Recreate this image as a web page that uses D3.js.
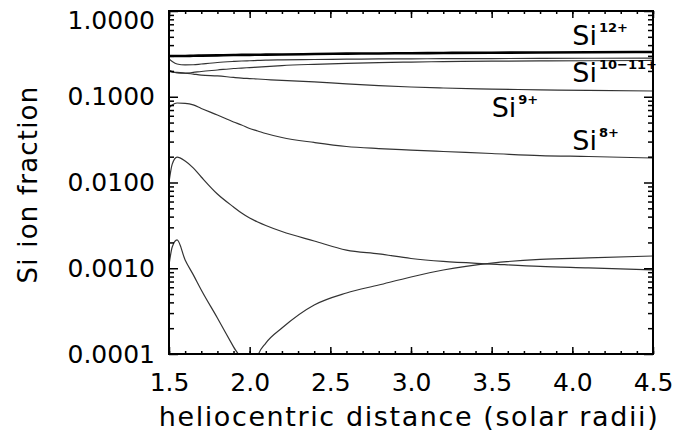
<!DOCTYPE html>
<html>
<head>
<meta charset="utf-8">
<script src="https://cdn.jsdelivr.net/npm/d3@7"></script>
<style>
body { margin:0; background:#fff; }
text { font-family: "DejaVu Sans", sans-serif; fill:#000; }
</style>
</head>
<body>
<svg id="graph1"></svg>
<script>

// heliocentric distance (solar radii)
var distance = [1.5,1.52,1.55,1.6,1.65,1.7,1.8,1.9,1.95,2.0,2.05,2.1,2.2,2.4,2.6,2.8,3.0,3.2,3.5,3.8,4.1,4.5]

// ion fractions
var si12 = [0.299,0.299,0.299,0.299,0.301,0.302,0.304,0.307,0.308,0.308,0.309,0.310,0.311,0.315,0.318,0.320,0.322,0.324,0.326,0.328,0.330,0.333]
var si11 = [0.276,0.258,0.241,0.235,0.236,0.241,0.251,0.258,0.261,0.263,0.265,0.267,0.269,0.272,0.274,0.276,0.277,0.278,0.279,0.280,0.281,0.282]
var si10 = [0.205,0.197,0.190,0.188,0.192,0.197,0.205,0.2135,0.216,0.219,0.222,0.225,0.231,0.239,0.2455,0.250,0.254,0.257,0.260,0.262,0.263,0.265]
var si9  = [0.200,0.194,0.192,0.189,0.184,0.179,0.175,0.168,0.165,0.163,0.161,0.159,0.155,0.149,0.141,0.135,0.130,0.1265,0.123,0.1205,0.1186,0.1167]
var si8  = [0.0739,0.0801,0.0845,0.0838,0.0805,0.0730,0.0613,0.0508,0.0468,0.0426,0.0399,0.0373,0.0335,0.0293,0.0263,0.0249,0.0239,0.0230,0.0218,0.0206,0.0201,0.0193]
var si7  = [0.0101,0.0164,0.0198,0.0178,0.0148,0.0116,0.00734,0.00518,0.00441,0.00385,0.00346,0.00315,0.00268,0.00208,0.00163,0.00147,0.00130,0.00120,0.00112,0.00105,0.00101,0.000954]
var si6  = [0.00109,0.00177,0.00214,0.00125,0.000843,0.000558,0.000263,0.000121,0.0000829,0.000038,0.0000948,0.000134,0.000201,0.000373,0.000515,0.000638,0.000791,0.000954,0.00115,0.00127,0.00132,0.00139]

var xTicks = [1.5,2.0,2.5,3.0,3.5,4.0,4.5]
var yTicks = [0.0001,0.001,0.01,0.1,1]

var seriesList = [
    {name:"si12", values:si12, width:2.6, color:"#000"},
    {name:"si11", values:si11, width:1.2, color:"#333"},
    {name:"si10", values:si10, width:1.2, color:"#333"},
    {name:"si9",  values:si9,  width:1.2, color:"#333"},
    {name:"si8",  values:si8,  width:1.2, color:"#333"},
    {name:"si7",  values:si7,  width:1.2, color:"#333"},
    {name:"si6",  values:si6,  width:1.2, color:"#333"}
]

// ion labels, placed in data units
var labelList = [
    {sup:"12+", x:4.0, y:0.40},
    {sup:"10\u221211+", x:4.0, y:0.148},
    {sup:"9+", x:3.5, y:0.058},
    {sup:"8+", x:4.0, y:0.0239}
]


var initGraph = function()
{
    var screen = {width:675, height:438}
    var margins = {left:169, right:22, top:11, bottom:84}
    var graph =
        {
            width:screen.width-margins.left-margins.right,
            height:screen.height-margins.top-margins.bottom
        }

    var svg = d3.select("#graph1")
        .attr("width", screen.width)
        .attr("height", screen.height)

    var target = svg.append("g")
        .attr("transform", "translate("+margins.left+","+margins.top+")")

    var xScale = d3.scaleLinear()
        .domain([1.5,4.5])
        .range([0, graph.width])

    var yScale = d3.scaleLog()
        .domain([0.0001,1])
        .range([graph.height, 0])

    svg.append("defs").append("clipPath")
        .attr("id","plotclip")
        .append("rect")
        .attr("width", graph.width)
        .attr("height", graph.height)

    drawLines(target, xScale, yScale)
    drawAxis(target, graph, xScale, yScale)
    drawLabels(svg, target, graph, margins, xScale, yScale)
}


var drawLines = function(target, xScale, yScale)
{
    var line = d3.line()
        .x(function(d, i) { return xScale(distance[i]) })
        .y(function(d) { return yScale(d) })
        .curve(d3.curveMonotoneX)

    target.append("g")
        .attr("clip-path","url(#plotclip)")
        .selectAll("path")
        .data(seriesList)
        .enter()
        .append("path")
        .attr("d", function(s) { return line(s.values) })
        .attr("fill","none")
        .attr("stroke", function(s) { return s.color })
        .attr("stroke-width", function(s) { return s.width })
}


var drawAxis = function(target, graph, xScale, yScale)
{
    var minorX = d3.range(15, 46).map(function(v) { return v/10 })
    var minorY = []
    yTicks.slice(0, 4).forEach(function(t)
    {
        for (var k = 2; k < 10; k++) minorY.push(t*k)
    })

    var noDomain = function(g) { g.select(".domain").remove(); g.selectAll("line").attr("stroke-width",1.5) }

    // bottom
    target.append("g")
        .attr("transform","translate(0,"+graph.height+")")
        .call(d3.axisBottom(xScale).tickValues(minorX).tickSize(-3).tickFormat(""))
        .call(noDomain)
    target.append("g")
        .attr("transform","translate(0,"+graph.height+")")
        .call(d3.axisBottom(xScale).tickValues(xTicks).tickSize(-7).tickPadding(19).tickFormat(d3.format(".1f")))
        .call(noDomain)
        .selectAll("text").attr("font-size",25).attr("font-family",null)

    // top
    target.append("g")
        .call(d3.axisTop(xScale).tickValues(minorX).tickSize(-3).tickFormat(""))
        .call(noDomain)
    target.append("g")
        .call(d3.axisTop(xScale).tickValues(xTicks).tickSize(-7).tickFormat(""))
        .call(noDomain)

    // left
    target.append("g")
        .call(d3.axisLeft(yScale).tickValues(minorY).tickSize(-5).tickFormat(""))
        .call(noDomain)
    var left = target.append("g")
        .call(d3.axisLeft(yScale).tickValues(yTicks).tickSize(-9).tickPadding(14).tickFormat(d3.format(".4f")))
        .call(noDomain)
    left.selectAll("text").attr("font-size",25).attr("font-family",null)
    left.selectAll("text").filter(function(d) { return d == 1 }).attr("dy","0.68em")

    // right
    target.append("g")
        .attr("transform","translate("+graph.width+",0)")
        .call(d3.axisRight(yScale).tickValues(minorY).tickSize(-5).tickFormat(""))
        .call(noDomain)
    target.append("g")
        .attr("transform","translate("+graph.width+",0)")
        .call(d3.axisRight(yScale).tickValues(yTicks).tickSize(-9).tickFormat(""))
        .call(noDomain)

    target.append("rect")
        .attr("width", graph.width)
        .attr("height", graph.height)
        .attr("fill","none")
        .attr("stroke","#000")
        .attr("stroke-width",2)
}


var drawLabels = function(svg, target, graph, margins, xScale, yScale)
{
    var ions = target.append("g")
    labelList.forEach(function(l)
    {
        var t = ions.append("text")
            .attr("x", xScale(l.x))
            .attr("y", yScale(l.y))
            .attr("font-size",27)
        t.append("tspan").text("Si")
        t.append("tspan")
            .text(l.sup)
            .attr("font-size",13)
            .attr("font-weight","bold")
            .attr("dx",2)
            .attr("dy",-13)
    })

    svg.append("text")
        .text("heliocentric distance (solar radii)")
        .attr("text-anchor","middle")
        .attr("font-size",27)
        .attr("letter-spacing",1.6)
        .attr("x", margins.left + graph.width/2 - 2)
        .attr("y", 426)

    svg.append("g")
        .attr("transform","translate(37,"+(margins.top+graph.height/2+2)+")")
        .append("text")
        .text("Si ion fraction")
        .attr("text-anchor","middle")
        .attr("font-size",26)
        .attr("letter-spacing",1.2)
        .attr("transform","rotate(270)")
}

initGraph()

</script>
</body>
</html>
